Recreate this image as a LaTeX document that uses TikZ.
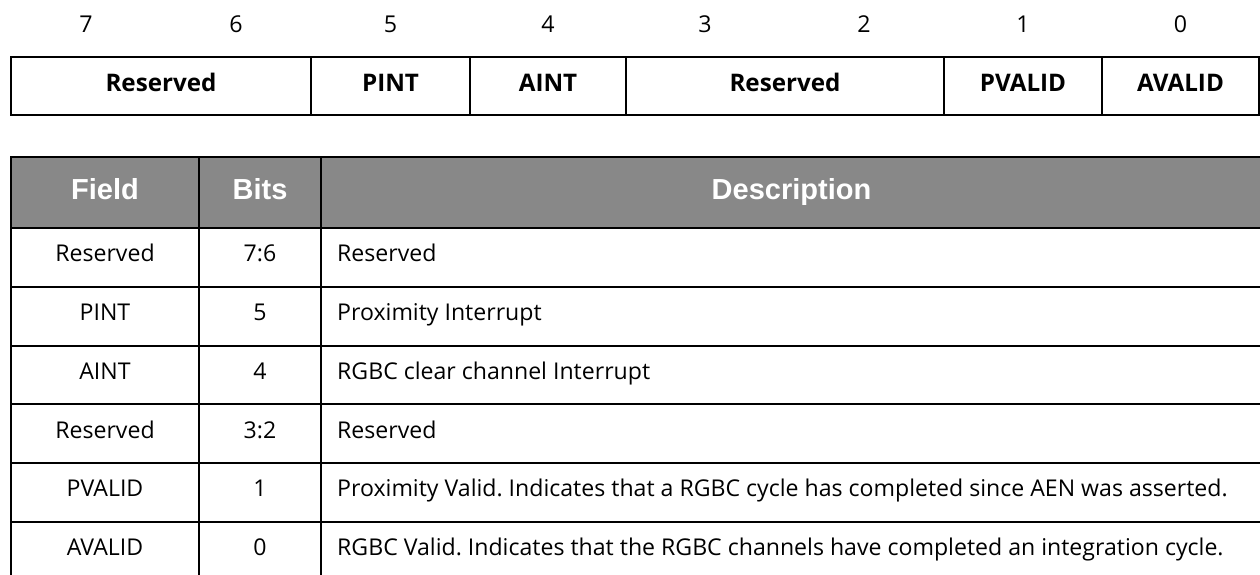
\documentclass[tikz,border=0pt]{standalone}
\usepackage{fontspec}
\setmainfont{Open Sans}
\newfontfamily\hdrfont{Liberation Sans}
\frenchspacing
\begin{document}
\begin{tikzpicture}[x=1pt,y=-1pt,
  regcell/.style={draw, line width=2pt, minimum height=58pt, inner sep=0pt,
    text height=17.3pt, text depth=7pt,
    font=\fontsize{24.2}{29}\selectfont\bfseries},
  bitnum/.style={inner sep=0pt, font=\fontsize{23.2}{28}\selectfont},
  hdrcell/.style={draw, line width=2pt, fill=hdrgray, minimum height=71pt, inner sep=0pt,
    text height=20.8pt, text depth=7pt,
    text=white, font=\hdrfont\fontsize{29}{33}\selectfont\bfseries},
  tcell/.style={draw, line width=2pt, minimum height=58.8pt, inner sep=0pt,
    text height=16.5pt, text depth=8pt,
    font=\fontsize{23.1}{28}\selectfont},
  dtext/.style={anchor=west, inner sep=0pt, text height=16.5pt, text depth=8pt,
    font=\fontsize{23.1}{28}\selectfont},
]
\definecolor{hdrgray}{HTML}{888888}
\useasboundingbox (0,0) rectangle (1260,575);
\clip (0,0) rectangle (1260,575);
% bit numbers
\foreach \b/\x in {7/86,6/236,5/390.5,4/548,3/705,2/864,1/1023,0/1180.5}
  \node[bitnum] (b\b) at (\x,24.5) {\b};
% register
\node[regcell, minimum width=300pt] (r76) at (161,86) {Reserved};
\node[regcell, minimum width=159pt] (r5) at (390.5,86) {PINT};
\node[regcell, minimum width=156pt] (r4) at (548,86) {AINT};
\node[regcell, minimum width=318pt] (r32) at (785,86) {Reserved};
\node[regcell, minimum width=158pt] (r1) at (1023,86) {PVALID};
\node[regcell, minimum width=157pt] (r0) at (1180.5,86) {AVALID};
% header
\node[hdrcell, minimum width=188pt] (hf) at (105,192.5) {Field};
\node[hdrcell, minimum width=122pt] (hb) at (260,192.5) {Bits};
\node[hdrcell, minimum width=941pt] (hd) at (791.5,192.5) {Description};
% rows
\foreach \i/\f/\bb/\d in {
  0/Reserved/7:6/Reserved,
  1/PINT/5/Proximity Interrupt,
  2/AINT/4/RGBC clear channel Interrupt,
  3/Reserved/3:2/Reserved,
  4/PVALID/1/Proximity Valid. Indicates that a RGBC cycle has completed since AEN was asserted.,
  5/AVALID/0/RGBC Valid. Indicates that the RGBC channels have completed an integration cycle.}{
  \pgfmathsetmacro\yc{228+58.8*\i+29.4}
  \node[tcell, minimum width=188pt] (f\i) at (105,\yc) {\f};
  \node[tcell, minimum width=122pt] (bt\i) at (260,\yc) {\bb};
  \node[tcell, minimum width=941pt] (d\i) at (791.5,\yc) {};
  \node[dtext] (dt\i) at ([xshift=17pt]d\i.west) {\d};
}
\end{tikzpicture}
\end{document}
